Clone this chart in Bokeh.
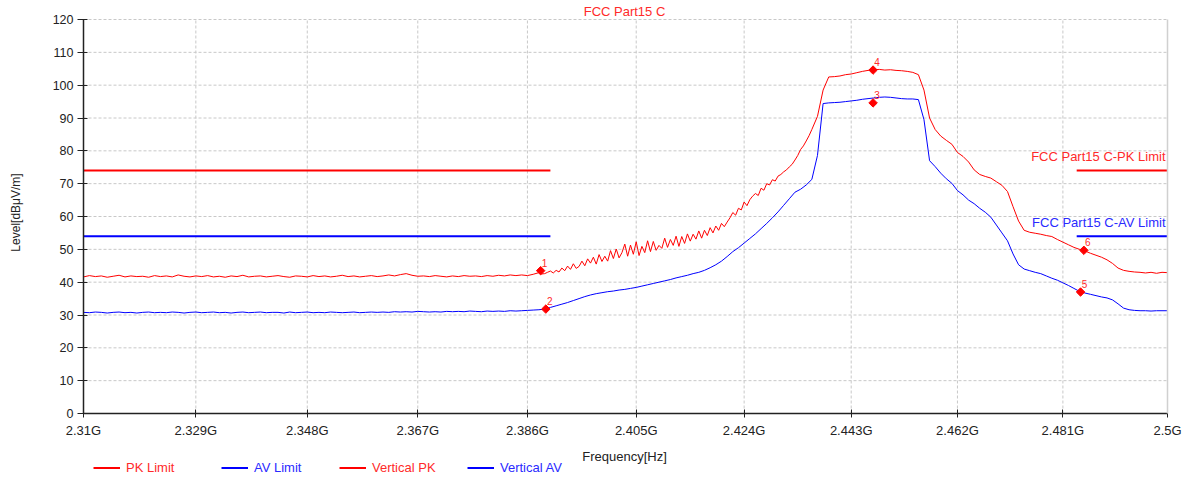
import math
from bokeh.plotting import figure
from bokeh.models import Range1d, FixedTicker, Legend, LegendItem, Label, LinearAxis
from bokeh.core.properties import value
from bokeh.embed import file_html
from bokeh.resources import INLINE

# ---------------- data ----------------
# peak trace: 1 MHz steps, 0.5 MHz steps through the noisy 2388-2435.5 MHz stretch
pk_freq_mhz = (list(range(2310, 2388))
               + [2388 + 0.5 * i for i in range(96)]
               + list(range(2436, 2501)))
av_freq_mhz = list(range(2310, 2501))

pk_level = [
    # 2310-2319
    41.6, 42.0, 41.7, 41.9, 41.5, 41.8, 42.1, 41.6, 41.9, 41.7,
    # 2320-2329
    41.8, 41.5, 42.0, 41.7, 41.9, 41.6, 42.2, 41.8, 41.6, 41.9,
    # 2330-2339
    41.7, 42.0, 41.6, 41.8, 41.5, 41.9, 41.7, 42.1, 41.6, 41.8,
    # 2340-2349
    41.9, 41.6, 41.8, 42.0, 41.7, 41.5, 41.9, 41.8, 41.6, 42.0,
    # 2350-2359
    41.7, 41.9, 41.6, 41.8, 42.1, 41.7, 41.9, 41.6, 41.8, 42.0,
    # 2360-2369
    41.7, 41.9, 42.2, 41.9, 42.3, 42.6, 42.1, 41.8, 41.9, 41.7,
    # 2370-2379
    42.0, 41.8, 41.6, 41.9, 41.7, 42.0, 41.8, 41.9, 41.7, 42.0,
    # 2380-2387
    41.8, 42.1, 41.9, 42.2, 42.0, 42.2, 42.0, 42.4,
    # 2388-2397.5 (0.5 MHz)
    42.9, 42.5, 42.6, 43.0, 43.4, 42.8, 43.6, 43.1, 44.3, 43.5,
    44.9, 43.9, 45.6, 44.2, 44.8, 46.4, 45.0, 47.1, 45.8, 47.6,
    # 2398-2407.5
    45.5, 48.4, 46.3, 47.9, 46.4, 49.6, 47.2, 50.1, 47.4, 49.0,
    51.6, 47.9, 51.3, 48.5, 52.3, 48.1, 50.9, 49.0, 52.6, 49.3,
    # 2408-2417.5
    52.4, 49.7, 51.2, 50.3, 53.4, 50.6, 53.0, 51.2, 54.0, 50.9,
    53.9, 51.8, 54.7, 52.5, 54.6, 53.1, 55.6, 53.4, 55.8, 54.2,
    # 2418-2427.5
    56.6, 55.0, 57.1, 55.8, 57.9, 56.9, 58.3, 59.6, 61.2, 60.4,
    62.5, 62.0, 64.4, 63.3, 65.1, 66.2, 67.0, 66.4, 68.6, 68.0,
    # 2428-2435.5
    70.0, 69.6, 71.2, 70.8, 72.3, 72.8, 73.6, 74.2, 75.1, 75.9,
    77.2, 78.6, 80.4, 81.5, 83.0, 84.6,
    # 2436-2439
    86.5, 90.5, 98.5, 102.5,
    # 2440-2449
    102.6, 102.8, 103.2, 103.4, 103.8, 104.2, 104.5, 104.7, 104.8, 104.6,
    # 2450-2459
    104.7, 104.5, 104.4, 104.2, 103.9, 103.2, 98.5, 90.0, 86.5, 84.5,
    # 2460-2469
    83.2, 82.0, 79.5, 78.3, 76.6, 74.2, 72.8, 72.2, 71.7, 70.6,
    # 2470-2479
    69.5, 67.6, 63.0, 58.6, 55.8, 55.2, 54.9, 54.6, 54.2, 53.9,
    # 2480-2489
    53.0, 52.2, 51.4, 50.6, 50.0, 49.5, 48.8, 48.2, 47.6, 46.8,
    # 2490-2500
    45.7, 44.3, 43.6, 43.3, 43.1, 43.0, 42.8, 43.0, 42.7, 43.0, 42.9,
]

av_level = [
    # 2310-2319
    30.8, 30.7, 30.9, 30.8, 30.6, 30.8, 30.9, 30.7, 30.8, 30.6,
    # 2320-2329
    30.8, 30.9, 30.7, 30.8, 30.7, 30.9, 30.8, 30.6, 30.8, 30.9,
    # 2330-2339
    30.7, 30.8, 30.9, 30.7, 30.8, 30.6, 30.8, 30.9, 30.7, 30.8,
    # 2340-2349
    30.9, 30.7, 30.8, 30.8, 30.6, 30.9, 30.7, 30.8, 30.9, 30.7,
    # 2350-2359
    30.8, 30.7, 30.9, 30.8, 30.7, 30.8, 30.9, 30.7, 30.8, 30.9,
    # 2360-2369
    30.8, 30.9, 30.8, 31.0, 30.9, 31.0, 30.9, 31.1, 31.0, 30.9,
    # 2370-2379
    31.0, 30.9, 31.1, 31.0, 31.1, 31.0, 31.2, 31.1, 31.0, 31.2,
    # 2380-2389
    31.1, 31.2, 31.1, 31.3, 31.2, 31.3, 31.4, 31.5, 31.6, 31.8,
    # 2390-2399
    32.3, 32.8, 33.3, 33.8, 34.4, 35.0, 35.6, 36.1, 36.5, 36.8,
    # 2400-2409
    37.1, 37.3, 37.6, 37.8, 38.1, 38.4, 38.8, 39.2, 39.6, 40.0,
    # 2410-2419
    40.4, 40.8, 41.3, 41.7, 42.1, 42.6, 43.0, 43.6, 44.4, 45.3,
    # 2420-2429
    46.4, 47.8, 49.3, 50.5, 51.9, 53.3, 54.7, 56.3, 57.9, 59.6,
    # 2430-2439
    61.4, 63.4, 65.4, 67.4, 68.3, 69.6, 71.3, 78.6, 94.4, 94.6,
    # 2440-2449
    94.7, 94.8, 95.0, 95.2, 95.4, 95.7, 95.9, 96.1, 96.3, 96.4,
    # 2450-2459
    96.3, 96.1, 95.9, 95.8, 95.8, 95.6, 89.5, 77.0, 75.2, 73.2,
    # 2460-2469
    71.5, 70.1, 67.9, 66.6, 65.0, 63.9, 62.5, 61.3, 59.8, 57.4,
    # 2470-2479
    55.0, 52.6, 48.6, 45.3, 44.0, 43.5, 43.0, 42.6, 41.9, 41.2,
    # 2480-2489
    40.6, 39.8, 39.0, 38.1, 37.2, 36.7, 36.3, 35.9, 35.5, 35.2,
    # 2490-2500
    34.6, 33.4, 32.1, 31.6, 31.4, 31.3, 31.3, 31.2, 31.3, 31.3, 31.3,
]

nan = float("nan")
limit_freq = [2.31, 2.39, nan, 2.4835, 2.5]
pk_limit = [74, 74, nan, 74, 74]
av_limit = [54, 54, nan, 54, 54]

marker_freq = [2.3883, 2.3892, 2.4469, 2.4469, 2.4842, 2.4848]
marker_level = [43.5, 31.8, 94.6, 104.6, 37.0, 49.7]
marker_text = ["1", "2", "3", "4", "5", "6"]

x_ticks = [2.31, 2.329, 2.348, 2.367, 2.386, 2.405, 2.424, 2.443, 2.462, 2.481, 2.5]
x_tick_labels = ["2.31G", "2.329G", "2.348G", "2.367G", "2.386G", "2.405G",
                 "2.424G", "2.443G", "2.462G", "2.481G", "2.5G"]
y_ticks = [0, 10, 20, 30, 40, 50, 60, 70, 80, 90, 100, 110, 120]

legend_labels = ["PK Limit", "AV Limit", "Vertical PK", "Vertical AV"]

# ---------------- layout / styles ----------------
W, H = 1187, 477
PLOT_L, PLOT_R, PLOT_T, PLOT_B = 83, 1167, 19, 413   # plotting area in pixels

FONT = "Liberation Sans"
RED = "#ff0000"
BLUE = "#0000ff"
RED_TXT = "#ff2a2a"
BLUE_TXT = "#2a2aff"
AXIS_TXT = "#222222"
GRID = "#c8c8c8"

pk_freq_ghz = [f / 1000.0 for f in pk_freq_mhz]
av_freq_ghz = [f / 1000.0 for f in av_freq_mhz]
x_lo, x_hi = x_ticks[0], x_ticks[-1]
y_lo, y_hi = y_ticks[0], y_ticks[-1]

# The frame covers the whole canvas (axes are placed at fixed locations),
# so nothing - tick labels, legend - is clipped.  Ranges are widened so that
# x_lo..x_hi and y_lo..y_hi fall on the plotting area above.
lx_per_px = math.log(x_hi / x_lo) / (PLOT_R - PLOT_L)
x_start = x_lo * math.exp(-PLOT_L * lx_per_px)
x_end = x_hi * math.exp((W - PLOT_R) * lx_per_px)
y_per_px = (y_hi - y_lo) / (PLOT_B - PLOT_T)
y_start = y_lo - (H - PLOT_B) * y_per_px
y_end = y_hi + PLOT_T * y_per_px

p = figure(width=W, height=H, output_backend="svg", toolbar_location=None,
           x_axis_type="log", title=None,
           x_range=Range1d(x_start, x_end), y_range=Range1d(y_start, y_end),
           min_border_left=0, min_border_right=0, min_border_top=0,
           min_border_bottom=0)
p.outline_line_color = None
p.background_fill_color = "white"
p.border_fill_color = "white"

# axes
xax = p.xaxis[0]
yax = p.yaxis[0]
xax.fixed_location = y_lo
xax.bounds = (x_lo, x_hi)
xax.ticker = FixedTicker(ticks=x_ticks)
xax.major_label_overrides = {t: l for t, l in zip(x_ticks, x_tick_labels)}
yax.fixed_location = x_lo
yax.bounds = (y_lo, y_hi)
yax.ticker = FixedTicker(ticks=y_ticks)
for ax in (xax, yax):
    ax.axis_line_color = AXIS_TXT
    ax.axis_line_width = 1.5
    ax.major_tick_line_color = AXIS_TXT
    ax.minor_tick_line_color = None
    ax.major_label_text_font = FONT
    ax.major_label_text_color = AXIS_TXT
xax.major_tick_in = 4
xax.major_tick_out = 4
xax.major_label_standoff = 5
xax.major_label_text_font_size = "13px"

yax.major_tick_in = 4
yax.major_tick_out = 6
yax.major_label_standoff = 4
yax.major_label_text_font_size = "12.5px"

# right frame edge
rax = LinearAxis(fixed_location=x_hi, bounds=(y_lo, y_hi), ticker=FixedTicker(ticks=[]),
                 axis_line_color="#d0d0d0", axis_line_width=1.5,
                 major_tick_line_color=None, minor_tick_line_color=None,
                 major_label_text_font_size="0px")
p.add_layout(rax, "right")

# grid, limited to the plotting area
p.xgrid.visible = False
p.ygrid.visible = False
gx = x_ticks[:-1]
p.segment(x0=gx, y0=[y_lo] * len(gx), x1=gx, y1=[y_hi] * len(gx),
          line_color=GRID, line_dash="3 2", line_width=1)
gy = y_ticks[1:]
p.segment(x0=[x_lo] * len(gy), y0=gy, x1=[x_hi] * len(gy), y1=gy,
          line_color=GRID, line_dash="3 2", line_width=1)

# limits
r_pk_lim = p.line(limit_freq, pk_limit, line_color=RED, line_width=2)
r_av_lim = p.line(limit_freq, av_limit, line_color=BLUE, line_width=2)

# traces
r_av = p.line(av_freq_ghz, av_level, line_color=BLUE, line_width=1)
r_pk = p.line(pk_freq_ghz, pk_level, line_color=RED, line_width=1)

# title and axis titles
p.add_layout(Label(x=624, y=H - 11, x_units="screen", y_units="screen",
                   text="FCC Part15 C", text_align="center", text_baseline="middle",
                   text_color=RED_TXT, text_font=FONT, text_font_size="13px"))
p.add_layout(Label(x=624, y=H - 456, x_units="screen", y_units="screen",
                   text="Frequency[Hz]", text_align="center", text_baseline="middle",
                   text_color=AXIS_TXT, text_font=FONT, text_font_size="13px"))
p.add_layout(Label(x=15, y=H - 212, x_units="screen", y_units="screen",
                   angle=math.pi / 2, text="Level[dBμV/m]", text_align="center",
                   text_baseline="middle", text_color=AXIS_TXT, text_font=FONT,
                   text_font_size="12px"))

# limit labels
p.add_layout(Label(x=x_hi, y=74, text="FCC Part15 C-PK Limit", text_align="right",
                   text_baseline="middle", x_offset=-2, y_offset=14,
                   text_color=RED_TXT, text_font=FONT, text_font_size="13px"))
p.add_layout(Label(x=x_hi, y=54, text="FCC Part15 C-AV Limit", text_align="right",
                   text_baseline="middle", x_offset=-2, y_offset=14,
                   text_color=BLUE_TXT, text_font=FONT, text_font_size="13px"))

# markers
p.scatter(marker_freq, marker_level, marker="square", angle=0.7854, size=6,
          color=RED)
p.text(marker_freq, marker_level, text=marker_text, x_offset=4, y_offset=-4,
       text_align="center", text_baseline="bottom", text_color=RED_TXT,
       text_font=value(FONT), text_font_size="10px")

# legend (one legend per entry so each label keeps its own colour)
r_pk_key = p.line([nan], [nan], line_color=RED, line_width=2)
r_av_key = p.line([nan], [nan], line_color=BLUE, line_width=2)
legend_renderers = [r_pk_lim, r_av_lim, r_pk_key, r_av_key]
legend_text_colors = [RED_TXT, BLUE_TXT, RED_TXT, BLUE_TXT]
legend_x = [93, 221, 339, 467]
for lab, r, tcol, lx in zip(legend_labels, legend_renderers, legend_text_colors, legend_x):
    leg = Legend(items=[LegendItem(label=lab, renderers=[r])], location=(lx, 2),
                 orientation="horizontal", label_text_color=tcol,
                 label_text_font=FONT, label_text_font_size="13px",
                 glyph_width=27, glyph_height=15, label_height=15,
                 label_standoff=6, padding=0, margin=0, spacing=0,
                 border_line_color=None, background_fill_alpha=0)
    p.add_layout(leg)

open("out.html", "w").write(file_html(p, INLINE))
